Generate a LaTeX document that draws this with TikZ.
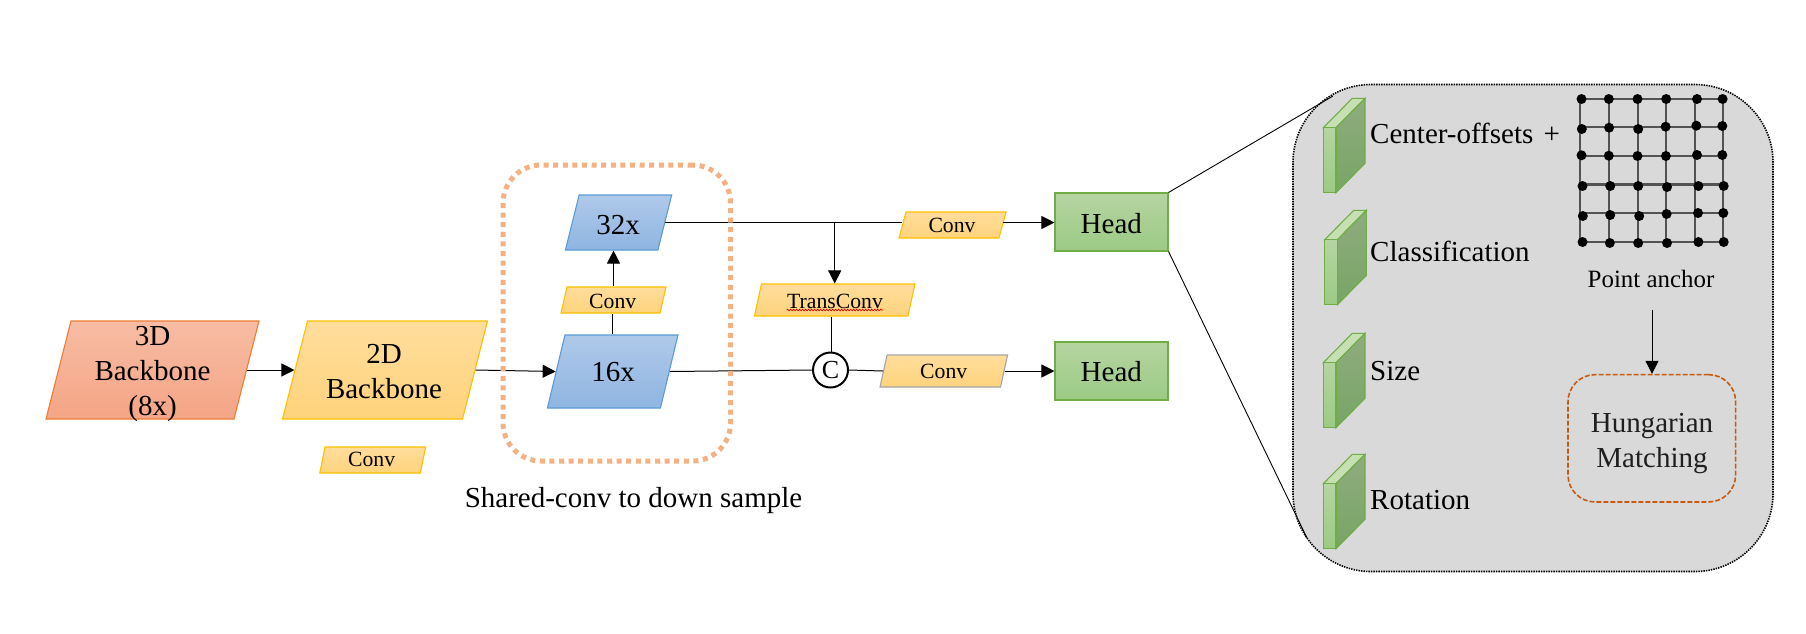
\documentclass[tikz,border=0pt]{standalone}
\usepackage{fontspec}
\setmainfont{Liberation Serif}
\usetikzlibrary{arrows.meta,decorations.pathmorphing,calc}
\definecolor{lineg}{HTML}{404040}
\definecolor{F5B}{HTML}{F4B183}\definecolor{HM}{HTML}{C55A11}
\tikzset{
  redbox/.style={draw=HTMLorange,line width=1.1pt,top color=F1top,bottom color=F1bot},
  goldbox/.style={draw=HTMLgold,line width=1.1pt,top color=F2top,bottom color=F2bot},
  goldgray/.style={draw=HTMLgray,line width=1.1pt,top color=F2top,bottom color=F2bot},
  bluebox/.style={draw=HTMLblue,line width=1.1pt,top color=F3top,bottom color=F3bot},
  headbox/.style={rectangle,inner sep=0pt,draw=HTMLgreen,line width=1.1pt,top color=F4top,bottom color=F4bot,minimum width=113pt,minimum height=58pt},
  big/.style={font=\fontsize{29}{35}\selectfont,inner sep=0pt,align=center},
  small/.style={font=\fontsize{21.7}{26}\selectfont,inner sep=0pt,anchor=base},
  bigbase/.style={font=\fontsize{29}{35}\selectfont,inner sep=0pt,anchor=base},
  leftlab/.style={font=\fontsize{29}{35}\selectfont,inner sep=0pt,anchor=base west},
  conn/.style={draw=black,line width=1pt},
  arr/.style={conn,-{Triangle[length=13pt,width=13pt]}},
  gridline/.style={draw=lineg!90,line width=2pt},
  griddot/.style={circle,fill=black,inner sep=0pt,minimum size=10pt},
}
\definecolor{HTMLorange}{HTML}{ED7D31}\definecolor{HTMLgold}{HTML}{FFC000}
\definecolor{HTMLgray}{HTML}{A5A5A5}\definecolor{HTMLblue}{HTML}{5B9BD5}
\definecolor{HTMLgreen}{HTML}{70AD47}
\definecolor{F1top}{HTML}{F7BCA4}\definecolor{F1bot}{HTML}{F5A585}
\definecolor{F2top}{HTML}{FFDD9C}\definecolor{F2bot}{HTML}{FFD37C}
\definecolor{F3top}{HTML}{AFC9E9}\definecolor{F3bot}{HTML}{8FB5E2}
\definecolor{F4top}{HTML}{B5D4A2}\definecolor{F4bot}{HTML}{9CCB84}
\definecolor{sidetop}{HTML}{8FAC7E}\definecolor{sidebot}{HTML}{78A566}
\definecolor{toptop}{HTML}{C6E0B4}
% name, cx, cy, w, h, slant, style
\newcommand\paragm[7]{%
  \coordinate (#1c) at (#2,#3);
  \node[#7,rectangle,inner sep=0pt,xslant=#6,transform shape,minimum width=#4pt,minimum height=#5pt] (#1) at (#1c) {};
}
% x, y of back top
\newcommand\cuboid[2]{%
  \fill[toptop,draw=HTMLgreen,line width=1.1pt] (#1,#2+29.4) -- ++(12.7,0) -- ++(29,-29.4) -- ++(-12.7,0) -- cycle;
  \shade[top color=sidetop,bottom color=sidebot,draw=HTMLgreen,line width=1.1pt] (#1+12.7,#2+29.4) -- ++(29,-29.4) -- ++(0,65) -- ++(-29,29.4) -- cycle;
  \shade[top color=F4top,bottom color=F4bot,draw=HTMLgreen,line width=1.1pt] (#1,#2+29.4) rectangle ++(12.7,64.6);
}
\begin{document}
\begin{tikzpicture}[x=1pt,y=-1pt]
\useasboundingbox[fill=white] (0,0) rectangle (1806,633);

% --- inset panel
\node[rectangle,minimum width=480pt,minimum height=487pt,rounded corners=78pt,fill=black!15,draw=black,line width=1.6pt,dash pattern=on 1.4pt off 1.1pt,inner sep=0pt] (panel) at (1533,328) {};

% --- boxes
\paragm{bb3}{152.5}{370}{188}{98}{0.255}{redbox}
\paragm{bb2}{385}{370}{180}{98}{0.255}{goldbox}
\paragm{cs}{372.7}{460}{100.6}{26}{0.2}{goldbox}
\paragm{xa}{618.5}{222.5}{92.5}{55}{0.25}{bluebox}
\paragm{cm}{613.5}{300}{99}{26}{0.23}{goldbox}
\paragm{xb}{612.7}{371.5}{113}{73}{0.24}{bluebox}
\paragm{ca}{952.5}{225}{100}{26}{0.27}{goldbox}
\paragm{tc}{834.7}{300}{153.5}{32}{0.22}{goldbox}
\paragm{cb}{943.8}{371}{120.5}{32}{0.22}{goldgray}
\node[headbox] (ha) at (1111.5,222) {};
\node[headbox] (hb) at (1111.5,371) {};
\node[circle,draw=black,fill=white,line width=2pt,inner sep=0pt,minimum size=35pt,font=\fontsize{26}{30}\selectfont] (cc) at (830.5,370) {C};

% --- texts
\node[big] (tbb3) at (152.5,374) {3D\\Backbone\\(8x)};
\node[big] (tbb2) at (384,371.7) {2D\\Backbone};
\node[small] (tcs) at (371.6,466.7) {Conv};
\node[bigbase] (txa) at (618,234.7) {32x};
\node[bigbase] (txb) at (613,381.7) {16x};
\node[small] (tcm) at (612.7,308) {Conv};
\node[small] (tca) at (952,232.7) {Conv};
\node[small] (tcb) at (943.7,378) {Conv};
\node[small] (ttc) at (835,308) {TransConv};
\draw[red!85!black,line width=.7pt,decorate,decoration={snake,amplitude=.8pt,segment length=3pt}] (786.7,310) -- (883,310);
\node[bigbase] (tha) at (1111.3,233.7) {Head};
\node[bigbase] (thb) at (1111.3,381) {Head};
\node[bigbase] (tsh) at (633.5,507) {Shared-conv to down sample};

% --- connectors
\draw[arr] (bb3.east) -- (bb2.west);
\draw[arr] (bb2.east) -- (xb.west);
\draw[conn] (xb.center |- xb.north) -- (xb.center |- cm.south);
\draw[arr] (cm.center |- cm.north) -- (cm.center |- xa.south);
\draw[conn] (xa.east) -- (ca.west |- xa.east);
\draw[arr] (ca.east |- xa.east) -- (ha.west |- xa.east);
\draw[arr] (tc.center |- xa.east) -- (tc.center |- tc.north);
\draw[conn] (tc.south) -- (tc.south |- cc.north);
\draw[conn] (xb.east) -- (cc.west);
\draw[conn] (cc.east) -- (cb.west);
\draw[arr] (cb.east) -- (hb.west);

% --- dotted frame
\node[rectangle,minimum width=227.5pt,minimum height=296pt,rounded corners=38pt,draw=F5B,line width=5pt,dash pattern=on 5pt off 4.6pt,inner sep=0pt] (frame) at (616.8,313) {};

% --- zoom lines
\coordinate (za) at (1333,96);
\coordinate (zb) at (1307,538);
\draw[conn,line width=.9pt] (ha.north east) -- (za);
\draw[conn,line width=.9pt] (ha.south east) -- (zb);

% --- cuboids
\cuboid{1323.3}{98.3}
\cuboid{1324.7}{210.3}
\cuboid{1323.3}{333.3}
\cuboid{1323.3}{454.3}
\node[leftlab] (l1) at (1370,143) {Center-offsets\hspace{.1em} +};
\node[leftlab] (l2) at (1370,261.7) {Classification};
\node[leftlab] (l3) at (1370,380) {Size};
\node[leftlab] (l4) at (1370,509.7) {Rotation};

% --- grid
\foreach \x in {1580,1609.2,1637.5,1666.2,1695,1723}
  \draw[gridline] (\x,99) -- (\x,242);
\foreach \y/\w in {99/2,127/2,155.7/2,184.3/3,213/2,242/2}
  \draw[gridline,line width=\w pt] (1580,\y) -- (1723,\y);
\foreach \x/\y in {1581.5/99,1608.8/99,1637.5/99,1666.2/99,1697/99,1722.6/99,
 1581.8/129,1609.1/127.7,1638.2/129,1665.6/126.7,1696.3/125.7,1722.3/126,
 1581.5/155.3,1608.8/155.7,1637.5/156,1665.9/156,1697/155,1722.3/155,
 1582.5/186,1610.2/186,1638.2/186,1667/187,1698.4/186,1723.7/186,
 1582.8/216,1610.2/215,1639.2/216,1666.6/214,1698/213,1723.3/213,
 1582.5/242,1609.8/243,1638.2/243,1667/243,1698.4/242,1723.7/242}
  \node[griddot] at (\x,\y) {};
\node[font=\fontsize{24.9}{30}\selectfont,inner sep=0pt,anchor=base] (pa) at (1651,287.2) {Point anchor};

% --- Hungarian
\node[rectangle,minimum width=167.6pt,minimum height=127.3pt,rounded corners=27pt,draw=HM,line width=1.6pt,dash pattern=on 5pt off 2pt,inner sep=0pt] (hm) at (1651.8,438.3) {};
\node[big,text=black!88] (thm) at (1652,443.7) {Hungarian\\Matching};
\coordinate (pb) at (1652,310);
\draw[arr] (pb) -- (pb |- hm.north);
\end{tikzpicture}
\end{document}
